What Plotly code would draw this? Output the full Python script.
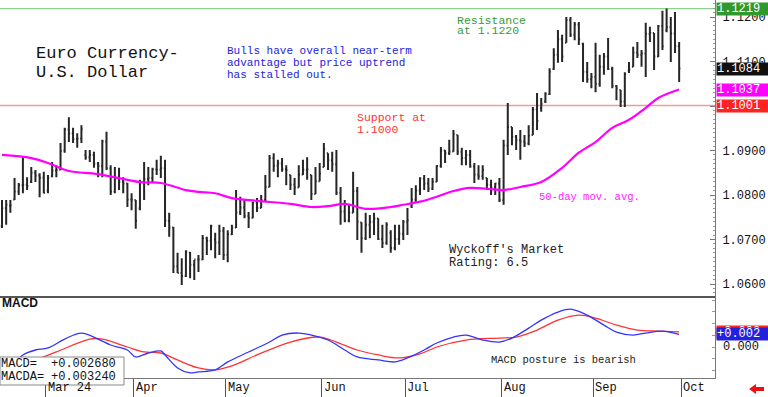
import plotly.graph_objects as go

# ---------------- data ----------------
highs = [
1.0789,1.0789,1.0789,1.0838,1.0827,1.0885,1.0840,1.0863,1.0856,1.0849,
1.0852,1.0845,1.0874,1.0867,1.0917,1.0951,1.0975,1.0951,1.0939,1.0957,
1.0901,1.0901,1.0897,1.0874,1.0924,1.0942,1.0867,1.0863,1.0861,1.0840,
1.0827,1.0804,1.0789,1.0834,1.0874,1.0863,1.0861,1.0879,1.0888,1.0879,
1.0760,1.0728,1.0670,1.0658,1.0676,1.0672,1.0654,1.0665,1.0710,1.0706,
1.0733,1.0715,1.0733,1.0728,1.0721,1.0733,1.0811,1.0796,1.0789,1.0762,
1.0785,1.0793,1.0800,1.0845,1.0890,1.0894,1.0879,1.0883,1.0867,1.0845,
1.0838,1.0867,1.0879,1.0885,1.0845,1.0863,1.0872,1.0917,1.0894,1.0897,
1.0901,1.0818,1.0789,1.0778,1.0852,1.0818,1.0739,1.0760,1.0755,1.0760,
1.0748,1.0733,1.0739,1.0721,1.0733,1.0733,1.0744,1.0771,1.0816,1.0822,
1.0840,1.0845,1.0838,1.0838,1.0867,1.0908,1.0901,1.0924,1.0946,1.0935,
1.0906,1.0901,1.0901,1.0872,1.0867,1.0867,1.0838,1.0834,1.0827,1.0838,
1.0924,1.1007,1.0953,1.0935,1.0946,1.0935,1.0957,1.0998,1.1029,1.1018,
1.1031,1.1085,1.1130,1.1171,1.1160,1.1200,1.1200,1.1189,1.1189,1.1142,
1.1099,1.1074,1.1142,1.1115,1.1119,1.1153,1.1088,1.1047,1.1036,1.1076,
1.1099,1.1133,1.1144,1.1126,1.1187,1.1178,1.1164,1.1182,1.1214,1.1219,
1.1200,1.1211,1.1144]

lows = [
1.0726,1.0733,1.0760,1.0789,1.0800,1.0804,1.0811,1.0827,1.0829,1.0795,
1.0804,1.0804,1.0840,1.0840,1.0856,1.0895,1.0919,1.0917,1.0906,1.0917,
1.0879,1.0874,1.0861,1.0840,1.0840,1.0856,1.0800,1.0804,1.0811,1.0804,
1.0773,1.0766,1.0724,1.0766,1.0789,1.0822,1.0827,1.0845,1.0838,1.0728,
1.0706,1.0625,1.0625,1.0598,1.0616,1.0613,1.0609,1.0627,1.0654,1.0665,
1.0676,1.0658,1.0665,1.0654,1.0649,1.0710,1.0726,1.0755,1.0748,1.0726,
1.0748,1.0762,1.0771,1.0785,1.0818,1.0852,1.0840,1.0852,1.0822,1.0811,
1.0800,1.0817,1.0845,1.0834,1.0789,1.0802,1.0831,1.0863,1.0856,1.0852,
1.0800,1.0733,1.0739,1.0739,1.0760,1.0699,1.0670,1.0699,1.0703,1.0710,
1.0699,1.0681,1.0688,1.0670,1.0676,1.0688,1.0699,1.0710,1.0771,1.0782,
1.0800,1.0811,1.0807,1.0811,1.0829,1.0861,1.0872,1.0890,1.0897,1.0890,
1.0867,1.0867,1.0861,1.0827,1.0834,1.0834,1.0811,1.0800,1.0800,1.0784,
1.0778,1.0890,1.0912,1.0901,1.0879,1.0908,1.0912,1.0935,1.0946,1.0987,
1.1007,1.1025,1.1081,1.1097,1.1099,1.1142,1.1155,1.1148,1.1137,1.1054,
1.1052,1.1040,1.1031,1.1043,1.1070,1.1081,1.1040,1.1013,1.0998,1.0998,
1.1074,1.1088,1.1108,1.1088,1.1065,1.1144,1.1081,1.1110,1.1126,1.1166,
1.1099,1.1119,1.1054]

opens = [
1.0730,1.0770,1.0776,1.0790,1.0808,1.0822,1.0823,1.0830,1.0850,1.0844,
1.0839,1.0810,1.0842,1.0855,1.0857,1.0900,1.0947,1.0938,1.0926,1.0927,
1.0890,1.0885,1.0890,1.0870,1.0865,1.0920,1.0860,1.0808,1.0838,1.0830,
1.0826,1.0790,1.0789,1.0770,1.0830,1.0836,1.0838,1.0858,1.0857,1.0860,
1.0742,1.0727,1.0640,1.0625,1.0618,1.0670,1.0643,1.0655,1.0655,1.0703,
1.0697,1.0700,1.0693,1.0719,1.0665,1.0712,1.0727,1.0761,1.0772,1.0753,
1.0749,1.0783,1.0771,1.0789,1.0818,1.0883,1.0866,1.0871,1.0858,1.0845,
1.0823,1.0817,1.0846,1.0857,1.0845,1.0802,1.0831,1.0863,1.0894,1.0878,
1.0869,1.0805,1.0763,1.0742,1.0760,1.0809,1.0738,1.0703,1.0733,1.0740,
1.0747,1.0701,1.0692,1.0715,1.0681,1.0701,1.0713,1.0740,1.0775,1.0790,
1.0810,1.0837,1.0826,1.0814,1.0830,1.0865,1.0900,1.0894,1.0898,1.0935,
1.0897,1.0883,1.0890,1.0864,1.0846,1.0842,1.0838,1.0823,1.0817,1.0826,
1.0789,1.0911,1.0953,1.0931,1.0923,1.0920,1.0916,1.0935,1.0992,1.0995,
1.1010,1.1027,1.1083,1.1115,1.1150,1.1142,1.1193,1.1160,1.1183,1.1140,
1.1077,1.1060,1.1065,1.1050,1.1088,1.1111,1.1083,1.1045,1.1036,1.1010,
1.1080,1.1088,1.1120,1.1115,1.1118,1.1162,1.1164,1.1111,1.1180,1.1170,
1.1177,1.1163,1.1134]

closes = [
1.0770,1.0778,1.0777,1.0808,1.0822,1.0823,1.0820,1.0850,1.0844,1.0839,
1.0805,1.0838,1.0855,1.0857,1.0899,1.0947,1.0938,1.0926,1.0927,1.0948,
1.0885,1.0890,1.0870,1.0865,1.0920,1.0860,1.0808,1.0838,1.0830,1.0826,
1.0790,1.0790,1.0742,1.0830,1.0836,1.0838,1.0858,1.0857,1.0860,1.0742,
1.0727,1.0640,1.0625,1.0618,1.0673,1.0643,1.0655,1.0655,1.0703,1.0697,
1.0730,1.0693,1.0719,1.0665,1.0712,1.0727,1.0761,1.0772,1.0753,1.0749,
1.0783,1.0771,1.0789,1.0818,1.0883,1.0866,1.0871,1.0858,1.0856,1.0823,
1.0817,1.0846,1.0857,1.0858,1.0802,1.0831,1.0848,1.0904,1.0878,1.0869,
1.0805,1.0763,1.0742,1.0760,1.0809,1.0740,1.0703,1.0733,1.0740,1.0747,
1.0701,1.0692,1.0733,1.0681,1.0701,1.0713,1.0740,1.0743,1.0790,1.0810,
1.0837,1.0826,1.0814,1.0830,1.0865,1.0900,1.0894,1.0898,1.0937,1.0897,
1.0883,1.0890,1.0864,1.0846,1.0842,1.0856,1.0823,1.0817,1.0826,1.0789,
1.0911,1.0953,1.0931,1.0923,1.0920,1.0916,1.0933,1.0992,1.0967,1.1005,
1.1027,1.1077,1.1115,1.1150,1.1111,1.1193,1.1160,1.1183,1.1150,1.1077,
1.1060,1.1065,1.1050,1.1088,1.1111,1.1083,1.1045,1.1040,1.1010,1.1072,
1.1082,1.1120,1.1115,1.1118,1.1162,1.1164,1.1111,1.1180,1.1134,1.1177,
1.1163,1.1134,1.1084]

# 50-day moving average (read at sample bars)
ma_idx = [0, 7, 11, 16, 23, 33, 38, 44, 47, 51, 55, 61, 69, 74, 78, 82, 87, 93, 96,
          100, 104, 108, 112, 116, 120, 124, 129, 134, 138, 142, 146, 150, 154, 157, 162]
ma_val = [1.0890, 1.0883, 1.0872, 1.0854, 1.0847, 1.0829, 1.0827, 1.0811, 1.0807, 1.0804,
          1.0793, 1.0787, 1.0780, 1.0773, 1.0775, 1.0780, 1.0769, 1.0773, 1.0778,
          1.0785, 1.0796, 1.0809, 1.0816, 1.0814, 1.0811, 1.0818, 1.0829, 1.0861, 1.0895,
          1.0919, 1.0951, 1.0969, 1.0996, 1.1018, 1.1037]

# MACD (blue) and MACDA (red) read at sample bars
macd_idx = [0, 2, 4, 5, 8, 11, 15, 19, 23, 26, 30, 32, 35, 38, 39, 42, 45, 47, 51, 54, 59,
            64, 67, 71, 75, 78, 82, 85, 90, 94, 97, 101, 104, 108, 111, 115, 119, 122, 126,
            129, 133, 136, 140, 144, 147, 151, 154, 158, 162]
macd_val = [-0.00532, -0.00404, -0.00255, -0.00170, -0.00064, -0.00021, 0.00170, 0.00298,
            0.00170, 0.00043, -0.00064, -0.00213, -0.00128, -0.00085, -0.00170, -0.00447,
            -0.00553, -0.00532, -0.00489, -0.00319, -0.00106, 0.00106, 0.00255, 0.00298,
            0.00234, 0.00149, -0.00064, -0.00213, -0.00277, -0.00319, -0.00234, -0.00064,
            0.00085, 0.00213, 0.00255, 0.00149, 0.00106, 0.00191, 0.00404, 0.00574, 0.00745,
            0.00809, 0.00681, 0.00468, 0.00319, 0.00255, 0.00298, 0.00340, 0.00268]
macda_idx = [0, 7, 13, 21, 24, 30, 34, 38, 42, 47, 51, 55, 61, 69, 76, 80, 85, 90, 95, 100,
             104, 111, 119, 123, 128, 133, 138, 142, 147, 152, 157, 162]
macda_val = [-0.00596, -0.00319, -0.00106, 0.00170, 0.00170, 0.0, -0.00106, -0.00128,
             -0.00277, -0.00447, -0.00489, -0.00404, -0.00170, 0.00106, 0.00213, 0.00106,
             -0.00064, -0.00170, -0.00234, -0.00149, 0.0, 0.00149, 0.00191, 0.00213, 0.00362,
             0.00574, 0.00681, 0.00617, 0.00468, 0.00362, 0.00340, 0.00324]

month_labels = ["Mar 24", "Apr", "May", "Jun", "Jul", "Aug", "Sep", "Oct"]
month_first_bar = [11, 32, 54, 77, 97, 120, 142, 163]

resistance = 1.1219
support = 1.1001
last_price = 1.1084
last_ma = 1.1037
macd_last = 0.002680
macda_last = 0.003240
price_ticks = [1.06, 1.07, 1.08, 1.09, 1.10, 1.11, 1.12]

# ---------------- layout helpers ----------------
W, H = 768, 397
ML, MR, MT, MB = 0, 53, 0, 19
PW, PH = W - ML - MR, H - MT - MB
MONO = "Liberation Mono"


def px(x):
    return x / PW


def py(y):
    return 1 - y / PH


split = py(297)
step = 4.18
x_lo = -2 / step
x_hi = x_lo + PW / step

idx = list(range(len(closes)))
fig = go.Figure()
fig.add_trace(go.Ohlc(
    x=idx, open=opens, high=highs, low=lows, close=closes,
    increasing=dict(line=dict(color="#262626", width=2)),
    decreasing=dict(line=dict(color="#262626", width=2)),
    tickwidth=0.3, xaxis="x", yaxis="y", showlegend=False, hoverinfo="skip"))
fig.add_trace(go.Scatter(x=ma_idx, y=ma_val, mode="lines", xaxis="x", yaxis="y",
                         line=dict(color="#ff00ff", width=2.2, shape="spline"),
                         showlegend=False, hoverinfo="skip"))
fig.add_trace(go.Scatter(x=macda_idx, y=macda_val, mode="lines", xaxis="x", yaxis="y2",
                         line=dict(color="#ff3333", width=1.3, shape="spline"),
                         showlegend=False, hoverinfo="skip"))
fig.add_trace(go.Scatter(x=macd_idx, y=macd_val, mode="lines", xaxis="x", yaxis="y2",
                         line=dict(color="#3333ff", width=1.3, shape="spline"),
                         showlegend=False, hoverinfo="skip"))

shapes = [
    dict(type="line", xref="paper", yref="y", x0=0, x1=1, y0=resistance, y1=resistance,
         line=dict(color="#8fd08f", width=1.2), layer="below"),
    dict(type="line", xref="paper", yref="y", x0=0, x1=1, y0=support, y1=support,
         line=dict(color="#f29a9a", width=1.5), layer="below"),
    dict(type="line", xref="paper", yref="paper", x0=0, x1=1, y0=split, y1=split,
         line=dict(color="#555555", width=2)),
    dict(type="rect", xref="paper", yref="paper", x0=0, x1=px(124), y0=py(385), y1=py(357),
         fillcolor="white", line=dict(color="#888888", width=1)),
    dict(type="path", xref="paper", yref="paper",
         path=f"M {px(749)},{py(389)} L {px(756)},{py(384)} L {px(756)},{py(387)} "
              f"L {px(764)},{py(387)} L {px(764)},{py(391)} L {px(756)},{py(391)} "
              f"L {px(756)},{py(394)} Z",
         fillcolor="#ee1111", line=dict(width=0)),
]

ann = []


def txt(s, x, y, color="#222222", size=11, family=MONO, bold=False):
    ann.append(dict(text=f"<b>{s}</b>" if bold else s, x=px(x), y=py(y), xref="paper",
                    yref="paper", xanchor="left", yanchor="middle", showarrow=False,
                    font=dict(family=family, size=size, color=color)))


txt("Euro Currency-", 34, 53, "#111111", 17)
txt("U.S. Dollar", 34, 72, "#111111", 17)
for k, line in enumerate(["Bulls have overall near-term", "advantage but price uptrend",
                          "has stalled out."]):
    txt(line, 225, 51 + 12 * k, "#2222dd", 11)
txt("Resistance", 455, 20, "#3a9a3a", 11.5)
txt("at 1.1220", 455, 31, "#3a9a3a", 11.5)
txt("Support at", 355, 118, "#ff3333", 11.5)
txt("1.1000", 355, 129, "#ff3333", 11.5)
txt("50-day mov. avg.", 537, 197, "#ff22ff", 10.5)
txt("Wyckoff's Market", 447, 250, "#222222", 12)
txt("Rating: 6.5", 447, 263, "#222222", 12)
txt("MACD posture is bearish", 489, 360, "#222222", 10.5)
txt("MACD", 0, 303, "#111111", 12, "Liberation Sans", True)
txt("MACD=", -1, 364, "#111111", 12)
txt(f"+{macd_last:.6f}", 49, 364, "#111111", 12)
txt("MACDA=", -1, 377, "#111111", 12)
txt(f"+{macda_last:.6f}", 49, 377, "#111111", 12)

for lab, b in zip(month_labels, month_first_bar):
    ann.append(dict(text=lab, x=b - 0.5, y=py(388), xref="x", yref="paper", xanchor="left",
                    yanchor="middle", xshift=0, showarrow=False,
                    font=dict(family=MONO, size=12, color="#111111")))


def vbox(s, yv, yref, bg):
    ann.append(dict(text=s, x=1, y=yv, xref="paper", yref=yref, xanchor="left",
                    yanchor="middle", showarrow=False, bgcolor=bg, width=52, height=12,
                    align="left", borderpad=0, xshift=1,
                    font=dict(family=MONO, size=12, color="white")))


vbox(f"{resistance:.4f}", resistance, "y", "#2f992f")
vbox(f"{last_price:.4f}", last_price, "y", "#111111")
vbox(f"{last_ma:.4f}", last_ma, "y", "#ff00ff")
vbox(f"{support:.4f}", support, "y", "#ff2222")
vbox(f"+{macda_last:.6f}"[:6], macda_last, "y2", "#ff2222")
vbox(f"+{macd_last:.6f}"[:6], macd_last, "y2", "#2222dd")
ann.append(dict(text="0.000", x=1, y=0, xref="paper", yref="y2", xanchor="left",
                yanchor="middle", showarrow=False, xshift=6,
                font=dict(family=MONO, size=12, color="#111111")))

fig.update_layout(
    width=W, height=H, margin=dict(l=ML, r=MR, t=MT, b=MB),
    paper_bgcolor="white", plot_bgcolor="white", showlegend=False,
    shapes=shapes, annotations=ann,
    xaxis=dict(domain=[0, 1], anchor="y2", range=[x_lo, x_hi],
               tickmode="array", tickvals=[b - 0.5 for b in month_first_bar],
               ticks="outside", ticklen=19, tickcolor="#555555", showticklabels=False,
               showline=True, linecolor="#777777", showgrid=False, zeroline=False,
               rangeslider=dict(visible=False)),
    yaxis=dict(domain=[split, 1], anchor="x", side="right",
               range=[1.1 - 191 / 4450, 1.1 + 106 / 4450],
               tickmode="array", tickvals=price_ticks,
               ticktext=[f"{v:.4f}" for v in price_ticks],
               ticks="inside", ticklen=5, tickcolor="#777777",
               minor=dict(dtick=0.001, tick0=1.06, ticks="inside", ticklen=2,
                          tickcolor="#999999"),
               showline=True, linecolor="#777777", showgrid=False, zeroline=False,
               ticklabelstandoff=4,
               tickfont=dict(family=MONO, size=12, color="#111111")),
    yaxis2=dict(domain=[0, split], anchor="x", side="right",
                range=[-0.00662, 0.01068], tickmode="linear", tick0=0, dtick=0.0025,
                ticks="inside", ticklen=3, tickcolor="#999999", showticklabels=False,
                showline=True, linecolor="#777777", showgrid=False, zeroline=False),
)

fig.write_html("out.html", config={"displayModeBar": False},
               post_script="document.body.style.margin='0';"
                           "document.body.style.overflow='hidden';")
